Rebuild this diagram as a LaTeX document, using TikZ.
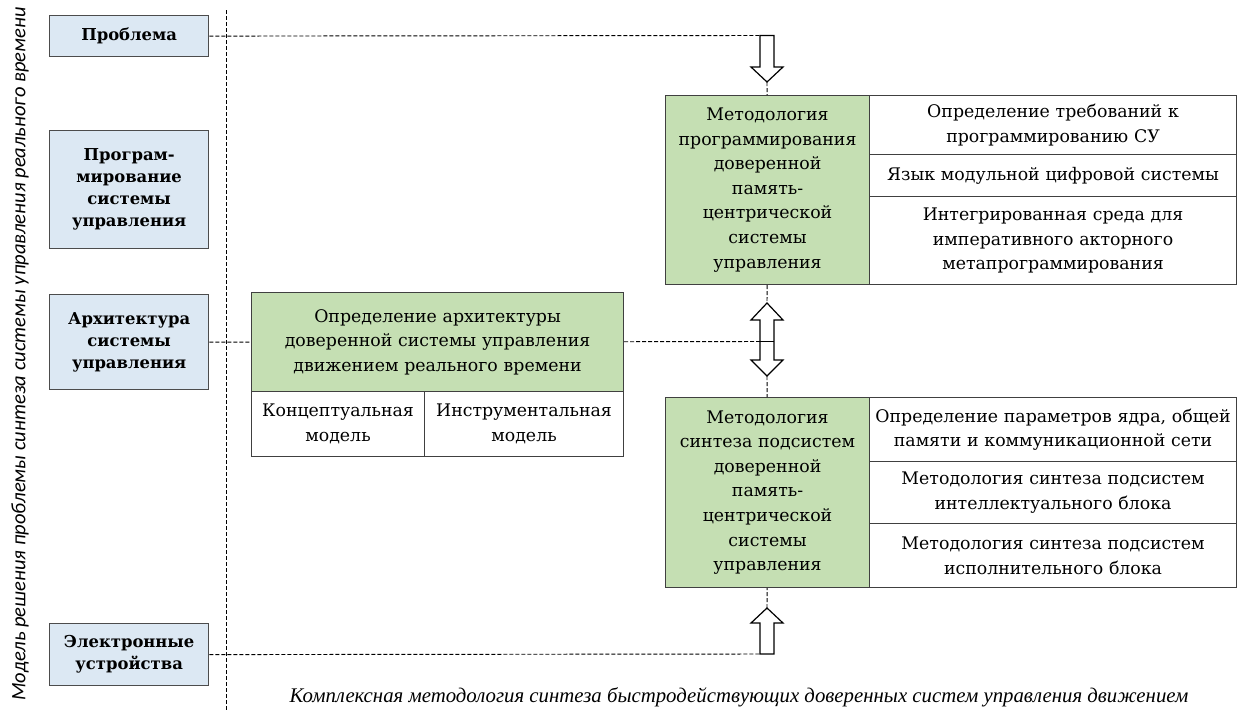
\documentclass[tikz,border=0pt]{standalone}
\usepackage{fontspec}
\setmainfont{DejaVu Serif}
\newfontfamily\modelfont{Carlito}
\newfontfamily\captionfont{Liberation Serif}
\usepackage{tikz}
\newdimen\pxu \pxu=0.75pt
\definecolor{boxblue}{RGB}{220,232,243}
\definecolor{cellgreen}{RGB}{197,223,179}
\definecolor{frame}{RGB}{64,64,64}

\begin{document}
\begin{tikzpicture}[x=0.75pt,y=-0.75pt,
    cellsize/.style 2 args={text width=#1\pxu,minimum height=#2\pxu},
    issue/.style={anchor=north west,draw=gray!60!black,line width=1pt,fill=boxblue,inner sep=0pt,align=center,
      font=\fontsize{12.3}{16.5}\selectfont\bfseries},
    method/.style={anchor=north west,draw=frame,line width=0.8pt,fill=cellgreen,inner sep=0pt,align=center,
      font=\fontsize{13}{18.4}\selectfont},
    item/.style={method,fill=white},
    link/.style={dash pattern=on 3pt off 1.5pt,line width=0.7pt},
    hollow/.style={draw,fill=white,line width=0.9pt,line join=miter}]
   \useasboundingbox (0,0) rectangle (1238,711);
   \node[issue,cellsize={159}{41}] (prob) at (49,15) {Проблема};
   \node[issue,cellsize={159}{118}] (prog) at (49,130) {Програм-\\мирование\\системы\\управления};
   \node[issue,cellsize={159}{95}] (arch) at (49,294) {Архитектура\\системы\\управления};
   \node[issue,cellsize={159}{62}] (elec) at (49,623) {Электронные\\устройства};
   \node[method,cellsize={372}{99}] (archdef) at (251,292) {Определение архитектуры\\доверенной системы управления\\движением реального времени};
   \node[item,cellsize={173}{65}] (concept) at (251,391) {Концептуальная\\модель};
   \node[item,cellsize={199}{65}] (instr) at (424,391) {Инструментальная\\модель};
   \node[method,cellsize={204}{189}] (progm) at (665,95) {Методология\\программирования\\доверенной\\память-\\центрической\\системы\\управления};
   \node[item,cellsize={367}{59}] (req) at (869,95) {Определение требований к\\программированию СУ};
   \node[item,cellsize={367}{42}] (lang) at (869,154) {Язык модульной цифровой системы};
   \node[item,cellsize={367}{88}] (ide) at (869,196) {Интегрированная среда для\\императивного акторного\\метапрограммирования};
   \node[method,cellsize={204}{190}] (synth) at (665,397) {Методология\\синтеза подсистем\\доверенной\\память-\\центрической\\системы\\управления};
   \node[item,cellsize={367}{64}] (par) at (869,397) {Определение параметров ядра, общей\\памяти и коммуникационной сети};
   \node[item,cellsize={367}{62}] (intel) at (869,461) {Методология синтеза подсистем\\интеллектуального блока};
   \node[item,cellsize={367}{64}] (exec) at (869,523) {Методология синтеза подсистем\\исполнительного блока};
   \node[rotate=90,font=\modelfont\itshape\fontsize{15.4}{18}\selectfont] (model) at (20,354) {Модель решения проблемы синтеза системы управления реального времени};
   \node[font=\captionfont\itshape\fontsize{15.6}{19}\selectfont] (caption) at (739,697) {Комплексная методология синтеза быстродействующих доверенных систем управления движением};
   \coordinate (axtop) at (226,10);
   \coordinate (axbot) at (226,711);
   \coordinate (downin) at (760,35.5);
   \coordinate (downtip) at (767,82);
   \coordinate (bothtop) at (767,303);
   \coordinate (bothmid) at (760,341.5);
   \coordinate (bothbot) at (767,376);
   \coordinate (uptip) at (767,608);
   \coordinate (upin) at (760,654);
   \draw[hollow] (760,35.5) -- (774,35.5) -- (774,67) -- (783,67) -- (downtip) -- (751,67) -- (760,67) -- cycle;
   \draw[hollow] (bothtop) -- (783,320) -- (774,320) -- (774,360) -- (783,360) -- (bothbot) -- (751,360) -- (760,360) -- (760,320) -- (751,320) -- cycle;
   \draw[line width=0.9pt] (bothmid) -- (774,341.5);
   \draw[hollow] (uptip) -- (783,623) -- (774,623) -- (774,654) -- (760,654) -- (760,623) -- (751,623) -- cycle;
   \draw[link] (axtop) to (axbot);
   \draw[link] (prob) to (downin);
   \draw[link] (downtip) to (progm);
   \draw[link] (arch) to (archdef);
   \draw[link] (archdef) to (bothmid);
   \draw[link] (progm) to (bothtop);
   \draw[link] (bothbot) to (synth);
   \draw[link] (elec) to (upin);
   \draw[link] (uptip) to (synth);
 \end{tikzpicture}
\end{document}
